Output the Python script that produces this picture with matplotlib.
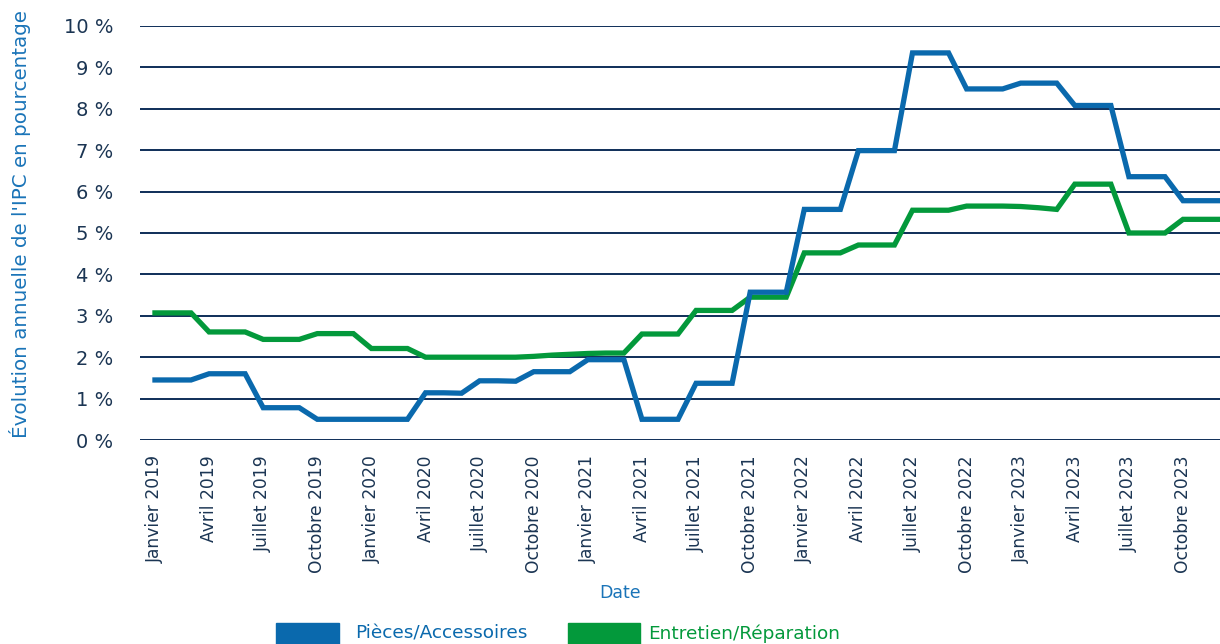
import matplotlib
matplotlib.use('Agg')
import matplotlib.pyplot as plt
import matplotlib.patches as mpatches
import numpy as np

plt.rcParams['font.family'] = ['DejaVu Sans']

# ---------- Data (monthly, Jan 2019 -> Dec 2023) ----------
month_names = ['Janvier', 'Avril', 'Juillet', 'Octobre']
years = [2019, 2020, 2021, 2022, 2023]

pieces = [1.45, 1.45, 1.45, 1.60, 1.60, 1.60, 0.78, 0.78, 0.78, 0.50, 0.50, 0.50,
          0.50, 0.50, 0.50, 1.14, 1.14, 1.13, 1.43, 1.43, 1.42, 1.65, 1.65, 1.65,
          1.94, 1.94, 1.94, 0.50, 0.50, 0.50, 1.37, 1.37, 1.37, 3.57, 3.57, 3.57,
          5.57, 5.57, 5.57, 6.99, 6.99, 6.99, 9.35, 9.35, 9.35, 8.48, 8.48, 8.48,
          8.62, 8.62, 8.62, 8.08, 8.08, 8.08, 6.36, 6.36, 6.36, 5.78, 5.78, 5.78]

entretien = [3.07, 3.07, 3.07, 2.61, 2.61, 2.61, 2.43, 2.43, 2.43, 2.57, 2.57, 2.57,
             2.21, 2.21, 2.21, 2.00, 2.00, 2.00, 2.00, 2.00, 2.00, 2.02, 2.05, 2.07,
             2.09, 2.10, 2.10, 2.56, 2.56, 2.56, 3.13, 3.13, 3.13, 3.45, 3.45, 3.45,
             4.52, 4.52, 4.52, 4.71, 4.71, 4.71, 5.55, 5.55, 5.55, 5.65, 5.65, 5.65,
             5.64, 5.61, 5.57, 6.18, 6.18, 6.18, 5.00, 5.00, 5.00, 5.33, 5.33, 5.33]

tick_labels = [f'{m} {y}' for y in years for m in month_names]
y_ticks = list(range(0, 11))

BLUE = '#0a69ad'
GREEN = '#03993b'
NAVY = '#0e2e58'
TEXT = '#1b3553'
LABEL_BLUE = '#1a74b8'

x = np.arange(len(pieces))

fig = plt.figure(figsize=(12.2, 6.44), dpi=100)
fig.patch.set_facecolor('white')
ax = fig.add_axes([140 / 1220, 1 - 440 / 644, 1 - 140 / 1220, (440 - 26) / 644])

for v in y_ticks:
    ax.axhline(v, color=NAVY, lw=1.4, zorder=1)

ax.plot(x, pieces, color=BLUE, lw=3.8, solid_joinstyle='miter', zorder=3)
ax.plot(x, entretien, color=GREEN, lw=3.8, solid_joinstyle='miter', zorder=2)

ax.set_xlim(-0.83, 59.05)
ax.set_ylim(0, 10)
for s in ax.spines.values():
    s.set_visible(False)

ax.set_yticks(y_ticks)
ax.set_yticklabels([f'{v} %' for v in y_ticks], fontsize=14, color=TEXT)
ax.set_xticks(np.arange(0, 60, 3))
ax.set_xticklabels(tick_labels, rotation=90, fontsize=12.3, color=TEXT,
                   va='top', ha='center')
ax.tick_params(axis='y', length=0, pad=19)
ax.tick_params(axis='x', length=0, pad=11)

fig.text(20 / 1220, 1 - 224 / 644, "Évolution annuelle de l'IPC en pourcentage",
         rotation=90, ha='center', va='center', fontsize=14.3, color=LABEL_BLUE)
fig.text(620 / 1220, 1 - 593 / 644, 'Date', ha='center', va='center',
         fontsize=12.5, color=LABEL_BLUE)

# Legend (partly cut at the bottom like the source)
fig.patches.append(mpatches.Rectangle((276 / 1220, -0.01), 63 / 1220, 0.042,
                                      transform=fig.transFigure, color=BLUE))
fig.text(355 / 1220, 1 - 634 / 644, 'Pièces/Accessoires', ha='left', va='center',
         fontsize=13.3, color=BLUE)
fig.patches.append(mpatches.Rectangle((568 / 1220, -0.01), 72 / 1220, 0.042,
                                      transform=fig.transFigure, color=GREEN))
fig.text(648 / 1220, 1 - 634 / 644, 'Entretien/Réparation', ha='left', va='center',
         fontsize=13.3, color=GREEN)

plt.savefig('out.png', dpi=100, facecolor='white')
plt.close()
